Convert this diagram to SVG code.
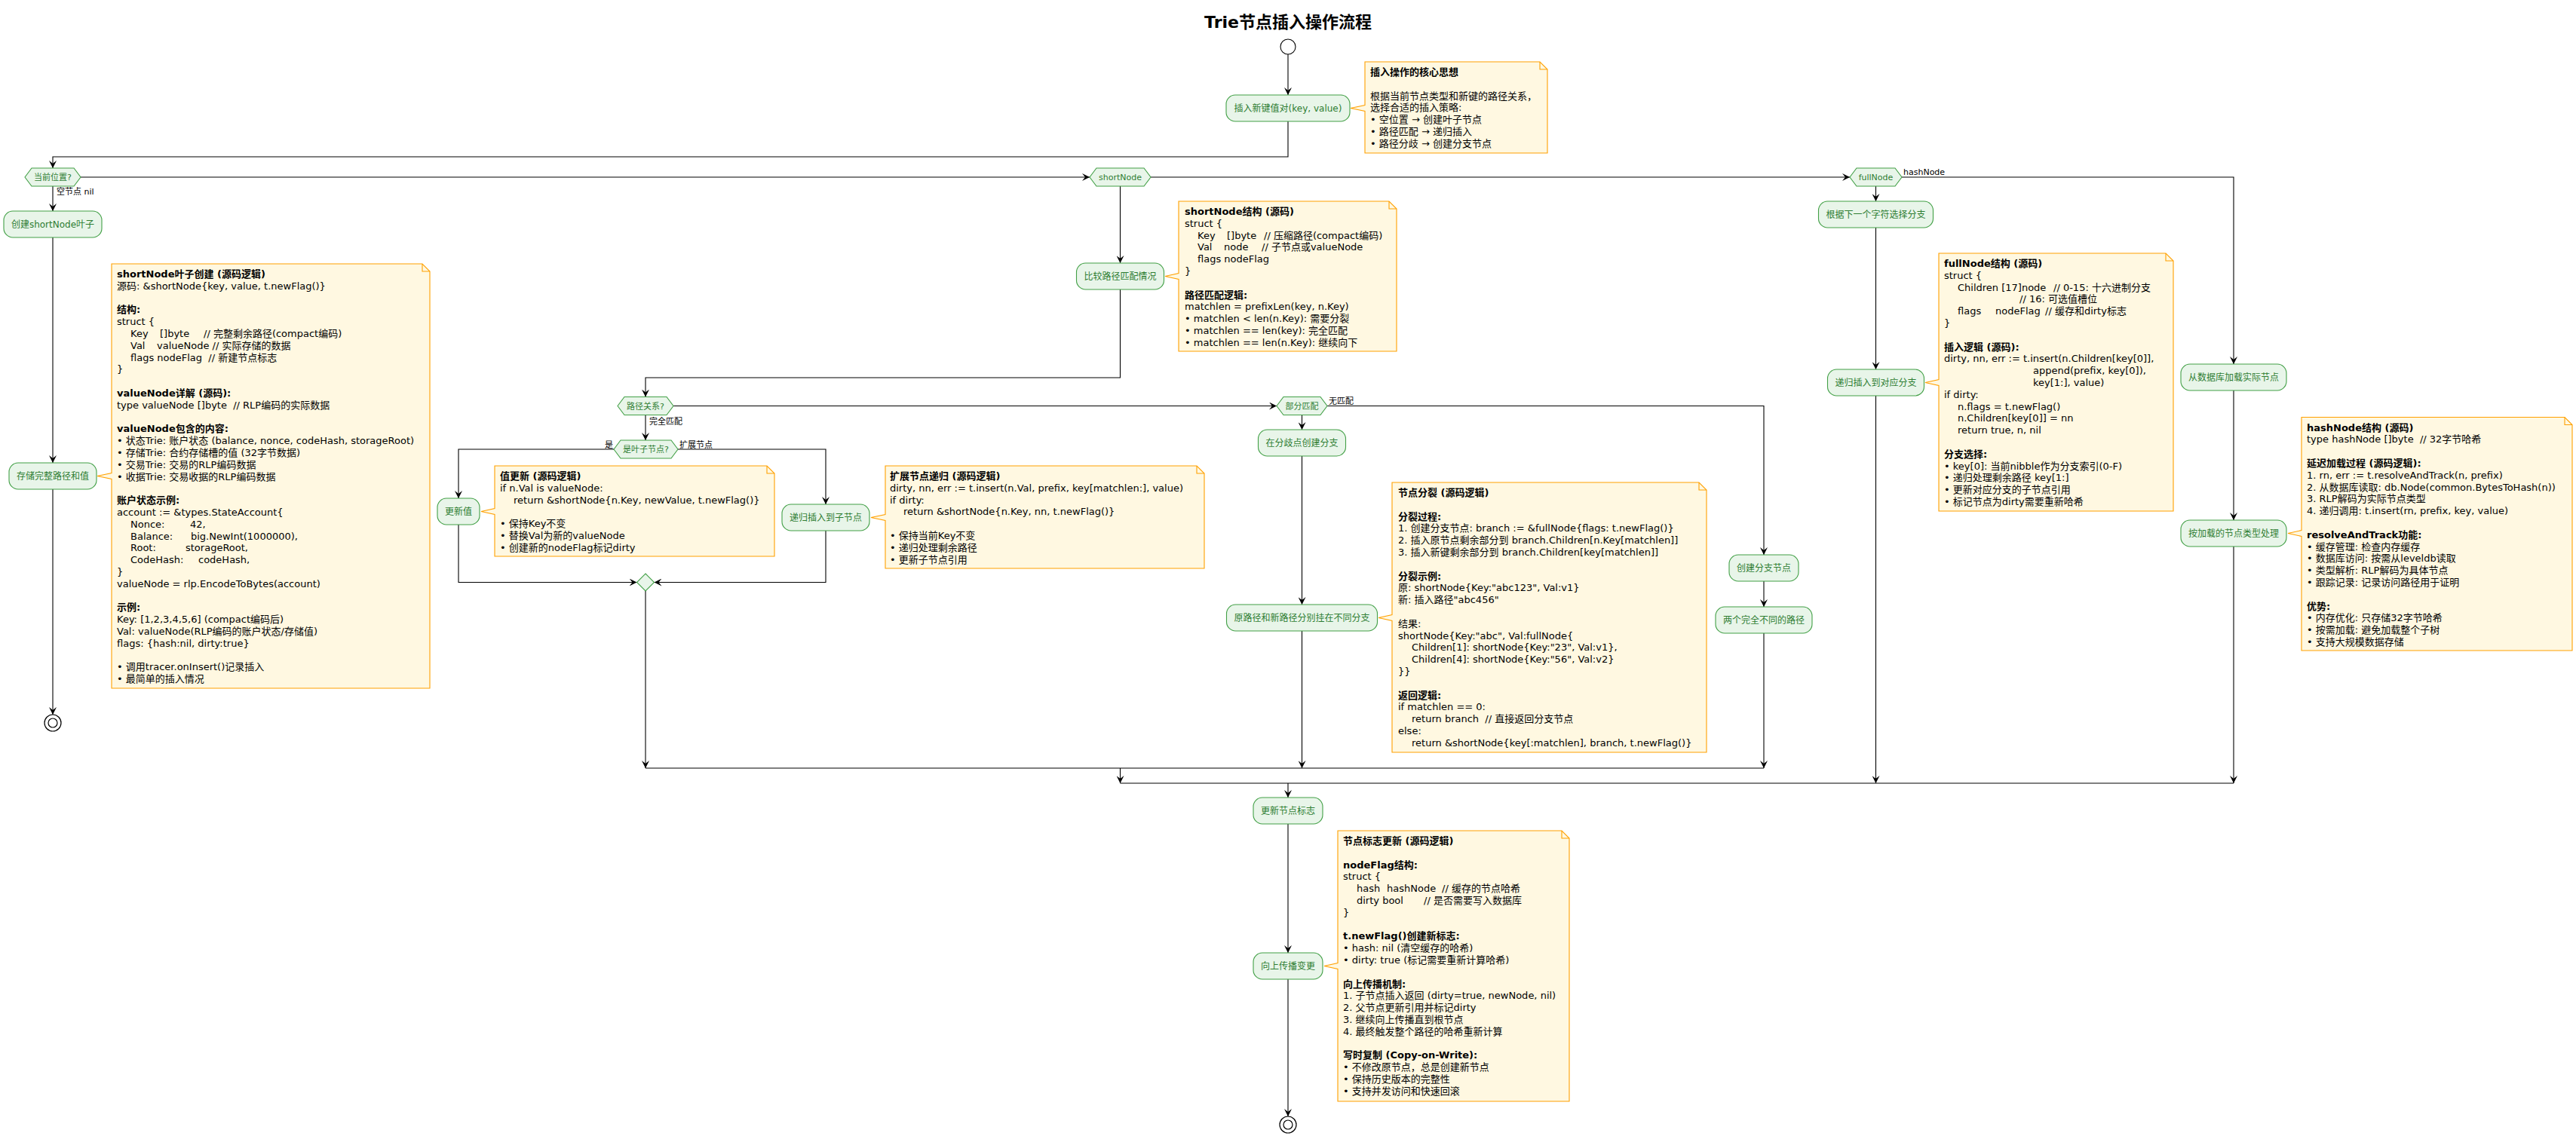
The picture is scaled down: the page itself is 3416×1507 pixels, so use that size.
<svg xmlns="http://www.w3.org/2000/svg" width="3416" height="1507" viewBox="0 0 3416 1507" xml:space="preserve">
<style>
text{font-family:'DejaVu Sans','Noto Sans CJK SC',sans-serif;white-space:pre}
.title{font-size:22px;font-weight:bold;text-anchor:middle;fill:#000}
.node rect{fill:#E8F5E9;stroke:#43A047;stroke-width:1.1}
.node text{font-size:12px;fill:#2E7D32;text-anchor:middle}
.hex polygon{fill:#E8F5E9;stroke:#43A047;stroke-width:1.1}
.hex text{font-size:11px;fill:#2E7D32;text-anchor:middle}
.note path.bg{fill:#FFF8E1;stroke:#FFA000;stroke-width:1.1}
.note path.fold{fill:none;stroke:#FFA000;stroke-width:1.1}
.note text{font-size:13px;fill:#000}
.b{font-weight:bold}
.lbl{font-size:11px;fill:#000}
.ln{fill:none;stroke:#000;stroke-width:1.1}
.ar{marker-end:url(#ah)}
</style>
<defs>
<marker id="ah" viewBox="0 0 10 10" markerWidth="10" markerHeight="10" refX="10" refY="5" orient="auto" markerUnits="userSpaceOnUse"><path d="M0,0 L10,5 L0,10 L4,5 Z" fill="#000"/></marker>
</defs>
<rect width="3416" height="1507" fill="#fff"/>
<text class="title" x="1708" y="37">Trie节点插入操作流程</text>

<g id="connectors">
<path class="ln ar" d="M1708,72 V126"/>
<path class="ln ar" d="M1708,161 V208 H70 V223"/>
<path class="ln ar" d="M70,247 V280"/>
<path class="ln ar" d="M70,315 V614"/>
<path class="ln ar" d="M70,649 V948"/>
<path class="ln ar" d="M107,235 H1445"/>
<path class="ln ar" d="M1526,235 H2453"/>
<path class="ln ar" d="M2522,235 H2962 V483"/>
<path class="ln ar" d="M1485.5,247 V349"/>
<path class="ln ar" d="M1485.5,384 V501 H856 V526.5"/>
<path class="ln ar" d="M856,550.5 V584"/>
<path class="ln ar" d="M814,596 H608 V661"/>
<path class="ln ar" d="M899,596 H1095 V669"/>
<path class="ln ar" d="M608,696 V772.5 H844.5"/>
<path class="ln ar" d="M1095,704 V772.5 H867.5"/>
<path class="ln ar" d="M856,784 V1019"/>
<path class="ln ar" d="M893,538.5 H1693"/>
<path class="ln ar" d="M1760,538.5 H2339 V736"/>
<path class="ln ar" d="M2339,771 V805"/>
<path class="ln ar" d="M2339,840 V1019"/>
<path class="ln ar" d="M1726.5,550.5 V570"/>
<path class="ln ar" d="M1726.5,605 V802"/>
<path class="ln ar" d="M1726.5,837 V1019"/>
<path class="ln" d="M856,1019 H2339"/>
<path class="ln ar" d="M1485.5,1019 V1039"/>
<path class="ln ar" d="M2487.5,247 V267"/>
<path class="ln ar" d="M2487.5,302 V490"/>
<path class="ln ar" d="M2487.5,525 V1039"/>
<path class="ln ar" d="M2962,518 V690"/>
<path class="ln ar" d="M2962,725 V1039"/>
<path class="ln" d="M1485.5,1039 H2962"/>
<path class="ln ar" d="M1708,1039 V1058"/>
<path class="ln ar" d="M1708,1093 V1264"/>
<path class="ln ar" d="M1708,1299 V1481"/>
<text class="lbl" x="75" y="258">空节点 nil</text>
<text class="lbl" x="861" y="562.5">完全匹配</text>
<text class="lbl" x="813" y="594" text-anchor="end">是</text>
<text class="lbl" x="901" y="594">扩展节点</text>
<text class="lbl" x="1762" y="536">无匹配</text>
<text class="lbl" x="2524" y="232">hashNode</text>
</g>

<g id="start"><circle cx="1708" cy="62" r="10" fill="#fff" stroke="#000" stroke-width="1.1"/></g>
<g id="end_left"><circle cx="70" cy="959" r="11" fill="#fff" stroke="#000" stroke-width="1.2"/><circle cx="70" cy="959" r="6" fill="none" stroke="#000" stroke-width="1.2"/></g>
<g id="end_main"><circle cx="1708" cy="1492" r="11" fill="#fff" stroke="#000" stroke-width="1.2"/><circle cx="1708" cy="1492" r="6" fill="none" stroke="#000" stroke-width="1.2"/></g>

<g id="n_insert" class="node"><rect x="1626" y="126" width="164" height="35" rx="12"/><text x="1708" y="148">插入新键值对(key, value)</text></g>
<g id="d_pos" class="hex"><polygon points="33,235 42,223 98,223 107,235 98,247 42,247"/><text x="70" y="239">当前位置?</text></g>
<g id="n_create_leaf" class="node"><rect x="5" y="280" width="130" height="35" rx="12"/><text x="70" y="302">创建shortNode叶子</text></g>
<g id="n_store" class="node"><rect x="12" y="614" width="116" height="35" rx="12"/><text x="70" y="636">存储完整路径和值</text></g>
<g id="d_short" class="hex"><polygon points="1445,235 1454,223 1517,223 1526,235 1517,247 1454,247"/><text x="1485.5" y="239">shortNode</text></g>
<g id="d_full" class="hex"><polygon points="2453,235 2462,223 2513,223 2522,235 2513,247 2462,247"/><text x="2487.5" y="239">fullNode</text></g>
<g id="n_compare" class="node"><rect x="1427.5" y="349" width="116" height="35" rx="12"/><text x="1485.5" y="371">比较路径匹配情况</text></g>
<g id="d_rel" class="hex"><polygon points="819,538.5 828,526.5 884,526.5 893,538.5 884,550.5 828,550.5"/><text x="856" y="542.5">路径关系?</text></g>
<g id="d_leaf" class="hex"><polygon points="814,596 823,584 890,584 899,596 890,608 823,608"/><text x="856.5" y="600">是叶子节点?</text></g>
<g id="n_update" class="node"><rect x="580" y="661" width="56" height="35" rx="12"/><text x="608" y="683">更新值</text></g>
<g id="n_rec_child" class="node"><rect x="1037" y="669" width="116" height="35" rx="12"/><text x="1095" y="691">递归插入到子节点</text></g>
<g id="m_leaf" class="hex"><polygon points="856,761 867.5,772.5 856,784 844.5,772.5"/></g>
<g id="d_part" class="hex"><polygon points="1693,538.5 1702,526.5 1751,526.5 1760,538.5 1751,550.5 1702,550.5"/><text x="1726.5" y="542.5">部分匹配</text></g>
<g id="n_fork" class="node"><rect x="1668.5" y="570" width="116" height="35" rx="12"/><text x="1726.5" y="592">在分歧点创建分支</text></g>
<g id="n_hang" class="node"><rect x="1626.5" y="802" width="200" height="35" rx="12"/><text x="1726.5" y="824">原路径和新路径分别挂在不同分支</text></g>
<g id="n_branch" class="node"><rect x="2293" y="736" width="92" height="35" rx="12"/><text x="2339" y="758">创建分支节点</text></g>
<g id="n_two" class="node"><rect x="2275" y="805" width="128" height="35" rx="12"/><text x="2339" y="827">两个完全不同的路径</text></g>
<g id="n_select" class="node"><rect x="2411.5" y="267" width="152" height="35" rx="12"/><text x="2487.5" y="289">根据下一个字符选择分支</text></g>
<g id="n_rec_branch" class="node"><rect x="2423.5" y="490" width="128" height="35" rx="12"/><text x="2487.5" y="512">递归插入到对应分支</text></g>
<g id="n_load" class="node"><rect x="2892" y="483" width="140" height="35" rx="12"/><text x="2962" y="505">从数据库加载实际节点</text></g>
<g id="n_dispatch" class="node"><rect x="2892" y="690" width="140" height="35" rx="12"/><text x="2962" y="712">按加载的节点类型处理</text></g>
<g id="n_flag" class="node"><rect x="1662" y="1058" width="92" height="35" rx="12"/><text x="1708" y="1080">更新节点标志</text></g>
<g id="n_prop" class="node"><rect x="1662" y="1264" width="92" height="35" rx="12"/><text x="1708" y="1286">向上传播变更</text></g>

<g id="note_core" class="note">
<path class="bg" d="M1810,82 H2042 L2052,92 V203 H1810 V147.5 L1791,143.5 L1810,139.5 Z"/><path class="fold" d="M2042,82 V92 H2052"/>
<text class="b" x="1817" y="100">插入操作的核心思想</text>
<text x="1817" y="131.6">根据当前节点类型和新键的路径关系，</text>
<text x="1817" y="147.4">选择合适的插入策略:</text>
<text x="1817" y="163.2">• 空位置 → 创建叶子节点</text>
<text x="1817" y="179">• 路径匹配 → 递归插入</text>
<text x="1817" y="194.8">• 路径分歧 → 创建分支节点</text>
</g>

<g id="note_leaf" class="note">
<path class="bg" d="M148,350 H560 L570,360 V913 H148 V635.5 L129,631.5 L148,627.5 Z"/><path class="fold" d="M560,350 V360 H570"/>
<text class="b" x="155" y="368">shortNode叶子创建 (源码逻辑)</text>
<text x="155" y="383.8">源码: &amp;shortNode{key, value, t.newFlag()}</text>
<text class="b" x="155" y="415.4">结构:</text>
<text x="155" y="431.2">struct {</text>
<text x="173" y="447">Key</text><text x="212" y="447">[]byte</text><text x="270" y="447">// 完整剩余路径(compact编码)</text>
<text x="173" y="462.8">Val</text><text x="208" y="462.8">valueNode // 实际存储的数据</text>
<text x="173" y="478.6">flags nodeFlag  // 新建节点标志</text>
<text x="155" y="494.4">}</text>
<text class="b" x="155" y="526">valueNode详解 (源码):</text>
<text x="155" y="541.8">type valueNode []byte  // RLP编码的实际数据</text>
<text class="b" x="155" y="573.4">valueNode包含的内容:</text>
<text x="155" y="589.2">• 状态Trie: 账户状态 (balance, nonce, codeHash, storageRoot)</text>
<text x="155" y="605">• 存储Trie: 合约存储槽的值 (32字节数据)</text>
<text x="155" y="620.8">• 交易Trie: 交易的RLP编码数据</text>
<text x="155" y="636.6">• 收据Trie: 交易收据的RLP编码数据</text>
<text class="b" x="155" y="668.2">账户状态示例:</text>
<text x="155" y="684">account := &amp;types.StateAccount{</text>
<text x="173" y="699.8">Nonce:</text><text x="252" y="699.8">42,</text>
<text x="173" y="715.6">Balance:</text><text x="253" y="715.6">big.NewInt(1000000),</text>
<text x="173" y="731.4">Root:</text><text x="246" y="731.4">storageRoot,</text>
<text x="173" y="747.2">CodeHash:</text><text x="263" y="747.2">codeHash,</text>
<text x="155" y="763">}</text>
<text x="155" y="778.8">valueNode = rlp.EncodeToBytes(account)</text>
<text class="b" x="155" y="810.4">示例:</text>
<text x="155" y="826.2">Key: [1,2,3,4,5,6] (compact编码后)</text>
<text x="155" y="842">Val: valueNode(RLP编码的账户状态/存储值)</text>
<text x="155" y="857.8">flags: {hash:nil, dirty:true}</text>
<text x="155" y="889.4">• 调用tracer.onInsert()记录插入</text>
<text x="155" y="905.2">• 最简单的插入情况</text>
</g>

<g id="note_short" class="note">
<path class="bg" d="M1563,267 H1842 L1852,277 V466 H1563 V370.5 L1545,366.5 L1563,362.5 Z"/><path class="fold" d="M1842,267 V277 H1852"/>
<text class="b" x="1571" y="285">shortNode结构 (源码)</text>
<text x="1571" y="300.8">struct {</text>
<text x="1588" y="316.6">Key</text><text x="1627" y="316.6">[]byte</text><text x="1676" y="316.6">// 压缩路径(compact编码)</text>
<text x="1588" y="332.4">Val</text><text x="1623" y="332.4">node</text><text x="1673" y="332.4">// 子节点或valueNode</text>
<text x="1588" y="348.2">flags nodeFlag</text>
<text x="1571" y="364">}</text>
<text class="b" x="1571" y="395.6">路径匹配逻辑:</text>
<text x="1571" y="411.4">matchlen = prefixLen(key, n.Key)</text>
<text x="1571" y="427.2">• matchlen &lt; len(n.Key): 需要分裂</text>
<text x="1571" y="443">• matchlen == len(key): 完全匹配</text>
<text x="1571" y="458.8">• matchlen == len(n.Key): 继续向下</text>
</g>

<g id="note_update" class="note">
<path class="bg" d="M656,618 H1017 L1027,628 V738 H656 V682.5 L638,678.5 L656,674.5 Z"/><path class="fold" d="M1017,618 V628 H1027"/>
<text class="b" x="663" y="636">值更新 (源码逻辑)</text>
<text x="663" y="651.8">if n.Val is valueNode:</text>
<text x="681" y="667.6">return &amp;shortNode{n.Key, newValue, t.newFlag()}</text>
<text x="663" y="699.2">• 保持Key不变</text>
<text x="663" y="715">• 替换Val为新的valueNode</text>
<text x="663" y="730.8">• 创建新的nodeFlag标记dirty</text>
</g>

<g id="note_ext" class="note">
<path class="bg" d="M1174,618 H1587 L1597,628 V754 H1174 V690.5 L1155,686.5 L1174,682.5 Z"/><path class="fold" d="M1587,618 V628 H1597"/>
<text class="b" x="1180" y="636">扩展节点递归 (源码逻辑)</text>
<text x="1180" y="651.8">dirty, nn, err := t.insert(n.Val, prefix, key[matchlen:], value)</text>
<text x="1180" y="667.6">if dirty:</text>
<text x="1198" y="683.4">return &amp;shortNode{n.Key, nn, t.newFlag()}</text>
<text x="1180" y="715">• 保持当前Key不变</text>
<text x="1180" y="730.8">• 递归处理剩余路径</text>
<text x="1180" y="746.6">• 更新子节点引用</text>
</g>

<g id="note_split" class="note">
<path class="bg" d="M1846,640 H2253 L2263,650 V998 H1846 V823.5 L1828,819.5 L1846,815.5 Z"/><path class="fold" d="M2253,640 V650 H2263"/>
<text class="b" x="1854" y="658">节点分裂 (源码逻辑)</text>
<text class="b" x="1854" y="689.6">分裂过程:</text>
<text x="1854" y="705.4">1. 创建分支节点: branch := &amp;fullNode{flags: t.newFlag()}</text>
<text x="1854" y="721.2">2. 插入原节点剩余部分到 branch.Children[n.Key[matchlen]]</text>
<text x="1854" y="737">3. 插入新键剩余部分到 branch.Children[key[matchlen]]</text>
<text class="b" x="1854" y="768.6">分裂示例:</text>
<text x="1854" y="784.4">原: shortNode{Key:"abc123", Val:v1}</text>
<text x="1854" y="800.2">新: 插入路径"abc456"</text>
<text x="1854" y="831.8">结果:</text>
<text x="1854" y="847.6">shortNode{Key:"abc", Val:fullNode{</text>
<text x="1872" y="863.4">Children[1]: shortNode{Key:"23", Val:v1},</text>
<text x="1872" y="879.2">Children[4]: shortNode{Key:"56", Val:v2}</text>
<text x="1854" y="895">}}</text>
<text class="b" x="1854" y="926.6">返回逻辑:</text>
<text x="1854" y="942.4">if matchlen == 0:</text>
<text x="1872" y="958.2">return branch  // 直接返回分支节点</text>
<text x="1854" y="974">else:</text>
<text x="1872" y="989.8">return &amp;shortNode{key[:matchlen], branch, t.newFlag()}</text>
</g>

<g id="note_full" class="note">
<path class="bg" d="M2571,336 H2872 L2882,346 V678 H2571 V511.5 L2553,507.5 L2571,503.5 Z"/><path class="fold" d="M2872,336 V346 H2882"/>
<text class="b" x="2578" y="354">fullNode结构 (源码)</text>
<text x="2578" y="369.8">struct {</text>
<text x="2596" y="385.6">Children [17]node</text><text x="2723" y="385.6">// 0-15: 十六进制分支</text>
<text x="2678" y="401.4">// 16: 可选值槽位</text>
<text x="2596" y="417.2">flags</text><text x="2646" y="417.2">nodeFlag</text><text x="2712" y="417.2">// 缓存和dirty标志</text>
<text x="2578" y="433">}</text>
<text class="b" x="2578" y="464.6">插入逻辑 (源码):</text>
<text x="2578" y="480.4">dirty, nn, err := t.insert(n.Children[key[0]],</text>
<text x="2696" y="496.2">append(prefix, key[0]),</text>
<text x="2696" y="512">key[1:], value)</text>
<text x="2578" y="527.8">if dirty:</text>
<text x="2596" y="543.6">n.flags = t.newFlag()</text>
<text x="2596" y="559.4">n.Children[key[0]] = nn</text>
<text x="2596" y="575.2">return true, n, nil</text>
<text class="b" x="2578" y="606.8">分支选择:</text>
<text x="2578" y="622.6">• key[0]: 当前nibble作为分支索引(0-F)</text>
<text x="2578" y="638.4">• 递归处理剩余路径 key[1:]</text>
<text x="2578" y="654.2">• 更新对应分支的子节点引用</text>
<text x="2578" y="670">• 标记节点为dirty需要重新哈希</text>
</g>

<g id="note_hash" class="note">
<path class="bg" d="M3052,553.5 H3401 L3411,563.5 V863 H3052 V711.5 L3034,707.5 L3052,703.5 Z"/><path class="fold" d="M3401,553.5 V563.5 H3411"/>
<text class="b" x="3059" y="571.5">hashNode结构 (源码)</text>
<text x="3059" y="587.3">type hashNode []byte  // 32字节哈希</text>
<text class="b" x="3059" y="618.9">延迟加载过程 (源码逻辑):</text>
<text x="3059" y="634.7">1. rn, err := t.resolveAndTrack(n, prefix)</text>
<text x="3059" y="650.5">2. 从数据库读取: db.Node(common.BytesToHash(n))</text>
<text x="3059" y="666.3">3. RLP解码为实际节点类型</text>
<text x="3059" y="682.1">4. 递归调用: t.insert(rn, prefix, key, value)</text>
<text class="b" x="3059" y="713.7">resolveAndTrack功能:</text>
<text x="3059" y="729.5">• 缓存管理: 检查内存缓存</text>
<text x="3059" y="745.3">• 数据库访问: 按需从leveldb读取</text>
<text x="3059" y="761.1">• 类型解析: RLP解码为具体节点</text>
<text x="3059" y="776.9">• 跟踪记录: 记录访问路径用于证明</text>
<text class="b" x="3059" y="808.5">优势:</text>
<text x="3059" y="824.3">• 内存优化: 只存储32字节哈希</text>
<text x="3059" y="840.1">• 按需加载: 避免加载整个子树</text>
<text x="3059" y="855.9">• 支持大规模数据存储</text>
</g>

<g id="note_flag" class="note">
<path class="bg" d="M1774,1102 H2071 L2081,1112 V1461 H1774 V1285.5 L1756,1281.5 L1774,1277.5 Z"/><path class="fold" d="M2071,1102 V1112 H2081"/>
<text class="b" x="1781" y="1120">节点标志更新 (源码逻辑)</text>
<text class="b" x="1781" y="1151.6">nodeFlag结构:</text>
<text x="1781" y="1167.4">struct {</text>
<text x="1799" y="1183.2">hash</text><text x="1839" y="1183.2">hashNode</text><text x="1912" y="1183.2">// 缓存的节点哈希</text>
<text x="1799" y="1199">dirty bool</text><text x="1888" y="1199">// 是否需要写入数据库</text>
<text x="1781" y="1214.8">}</text>
<text class="b" x="1781" y="1246.4">t.newFlag()创建新标志:</text>
<text x="1781" y="1262.2">• hash: nil (清空缓存的哈希)</text>
<text x="1781" y="1278">• dirty: true (标记需要重新计算哈希)</text>
<text class="b" x="1781" y="1309.6">向上传播机制:</text>
<text x="1781" y="1325.4">1. 子节点插入返回 (dirty=true, newNode, nil)</text>
<text x="1781" y="1341.2">2. 父节点更新引用并标记dirty</text>
<text x="1781" y="1357">3. 继续向上传播直到根节点</text>
<text x="1781" y="1372.8">4. 最终触发整个路径的哈希重新计算</text>
<text class="b" x="1781" y="1404.4">写时复制 (Copy-on-Write):</text>
<text x="1781" y="1420.2">• 不修改原节点，总是创建新节点</text>
<text x="1781" y="1436">• 保持历史版本的完整性</text>
<text x="1781" y="1451.8">• 支持并发访问和快速回滚</text>
</g>
</svg>
